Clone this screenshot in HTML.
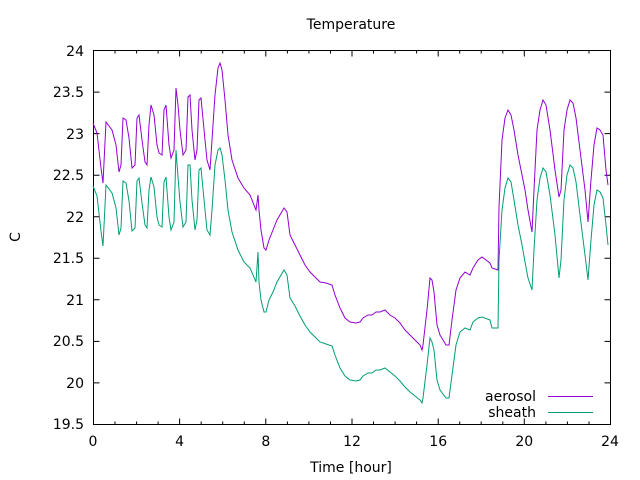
<!DOCTYPE html>
<html><head><style>body{margin:0;background:#fff}svg{display:block}text{font-family:"DejaVu Sans","Liberation Sans",sans-serif;font-size:14px;fill:#000}</style></head>
<body>
<svg width="640" height="480" viewBox="0 0 640 480" xmlns="http://www.w3.org/2000/svg">
<rect width="640" height="480" fill="#fff"/>
<g stroke="#000" stroke-width="1" fill="none">
<rect x="93.5" y="50.5" width="517" height="374"/>
<path d="M93.5 424.5h6M610.5 424.5h-6M93.5 382.9h6M610.5 382.9h-6M93.5 341.4h6M610.5 341.4h-6M93.5 299.8h6M610.5 299.8h-6M93.5 258.3h6M610.5 258.3h-6M93.5 216.7h6M610.5 216.7h-6M93.5 175.2h6M610.5 175.2h-6M93.5 133.6h6M610.5 133.6h-6M93.5 92.1h6M610.5 92.1h-6M93.5 50.5h6M610.5 50.5h-6"/>
<path d="M93.5 424.5v-6M93.5 50.5v6M179.6 424.5v-6M179.6 50.5v6M265.8 424.5v-6M265.8 50.5v6M352 424.5v-6M352 50.5v6M438.2 424.5v-6M438.2 50.5v6M524.3 424.5v-6M524.3 50.5v6"/>
<path d="M115 424.5v-3M136.6 424.5v-3M158.1 424.5v-3M201.2 424.5v-3M222.7 424.5v-3M244.3 424.5v-3M287.4 424.5v-3M308.9 424.5v-3M330.5 424.5v-3M373.5 424.5v-3M395.1 424.5v-3M416.6 424.5v-3M459.7 424.5v-3M481.2 424.5v-3M502.8 424.5v-3M545.9 424.5v-3M567.4 424.5v-3M589 424.5v-3M115 50.5v3M136.6 50.5v3M158.1 50.5v3M201.2 50.5v3M222.7 50.5v3M244.3 50.5v3M287.4 50.5v3M308.9 50.5v3M330.5 50.5v3M373.5 50.5v3M395.1 50.5v3M416.6 50.5v3M459.7 50.5v3M481.2 50.5v3M502.8 50.5v3M545.9 50.5v3M567.4 50.5v3M589 50.5v3"/>
</g>
<g text-anchor="end">
<text x="84" y="429">19.5</text><text x="84" y="388">20</text><text x="84" y="346">20.5</text><text x="84" y="305">21</text><text x="84" y="263">21.5</text><text x="84" y="222">22</text><text x="84" y="180">22.5</text><text x="84" y="139">23</text><text x="84" y="97">23.5</text><text x="84" y="56">24</text>
</g>
<g text-anchor="middle">
<text x="93" y="446">0</text><text x="179.6" y="446">4</text><text x="265.8" y="446">8</text><text x="352" y="446">12</text><text x="438.2" y="446">16</text><text x="524.3" y="446">20</text><text x="610" y="446">24</text>
<text x="351" y="472">Time [hour]</text>
<text x="351" y="29">Temperature</text>
<text x="0" y="0" transform="translate(20,237) rotate(-90)">C</text>
</g>
<text x="536" y="401" text-anchor="end">aerosol</text>
<text x="536" y="417" text-anchor="end">sheath</text>
<path d="M548 396.5h45" stroke="#9400d3"/>
<path d="M548 412.5h45" stroke="#009e73"/>
<polyline fill="none" stroke="#9400d3" stroke-width="1" points="93,123 97,133 101,168 103,183 106,122 112,130 116,145 119,172 121,165 123,118 126,120 129,138 132,168 135,165 137,118 139,115 142,140 145,162 147,165 149,125 151,105 154,115 157,145 159,153 162,155 164,110 166,105 169,145 171,158 174,150 176,88 178,105 180,130 183,155 186,150 188,97 190,95 192,130 195,160 197,150 199,100 201,98 205,140 207,160 210,170 212,140 215,95 218,68 220,63 222,70 225,100 228,135 232,160 238,178 244,188 250,195 256,210 258,195 259,210 261,230 264,248 266,250 269,240 273,230 277,220 284,208 287,212 290,235 295,245 300,255 305,265 310,272 316,278 320,282 326,283 332,285 335,295 340,308 345,318 350,322 356,323 360,322 363,318 368,315 372,315 376,312 380,312 385,310 390,315 395,318 400,323 405,330 410,335 415,340 420,345 422,350 423,345 427,310 430,278 432,280 434,292 437,325 440,335 446,345 449,345 452,320 456,290 460,278 465,272 470,275 473,268 478,260 482,257 490,263 492,268 498,270 499,207 502,140 505,118 508,110 511,115 514,130 518,155 522,175 525,190 528,210 532,232 534,190 537,130 540,110 543,100 546,105 550,130 555,170 559,197 561,190 564,130 567,110 570,100 573,103 576,118 580,150 585,190 588,222 591,180 594,145 597,128 600,130 603,135 606,170 608,185"/>
<polyline fill="none" stroke="#009e73" stroke-width="1" points="93,186 97,196 101,231 103,246 106,185 112,193 116,208 119,235 121,228 123,181 126,183 129,201 132,231 135,228 137,181 139,178 142,203 145,225 147,228 149,190 151,177 154,187 157,217 159,225 162,227 164,182 166,177 169,217 171,230 174,222 176,150 178,177 180,202 183,227 186,222 188,165 190,165 192,200 195,230 197,220 199,170 201,168 205,210 207,230 210,235 212,210 215,165 218,150 220,148 222,155 225,180 228,210 232,232 238,250 244,262 250,268 256,282 258,252 259,282 261,300 264,312 266,312 269,300 273,292 277,282 284,270 287,275 290,298 295,306 300,316 305,325 310,332 316,338 320,342 326,344 332,346 335,355 340,368 345,376 350,380 356,381 360,380 363,376 368,373 372,373 376,370 380,370 385,368 390,372 395,376 400,381 405,387 410,392 415,396 420,400 422,403 423,398 427,365 430,338 432,342 434,350 437,380 440,390 446,398 449,398 452,375 456,345 460,332 465,328 470,330 473,322 478,318 482,317 490,320 492,328 498,328 499,260 502,210 505,188 508,178 511,182 514,200 518,225 522,245 525,262 528,278 532,290 534,250 537,200 540,178 543,168 546,172 550,195 555,235 559,278 561,260 564,200 567,175 570,165 573,168 576,182 580,215 585,255 588,280 591,240 594,205 597,190 600,192 603,198 606,225 608,245"/>
</svg>
</body></html>
